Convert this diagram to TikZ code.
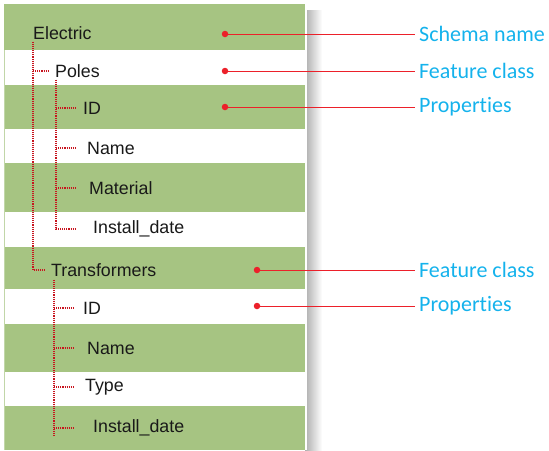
\documentclass[tikz,border=0pt]{standalone}
\usepackage{fontspec}
\setmainfont{Liberation Sans}
\newfontfamily\calloutfont[Ligatures={NoCommon}]{Carlito}
\usetikzlibrary{positioning}
\definecolor{rowgreen}{RGB}{166,196,130}
\definecolor{treered}{RGB}{200,20,30}
\definecolor{leadred}{RGB}{236,32,42}
\definecolor{labelcyan}{RGB}{20,178,236}
\begin{document}
\begin{tikzpicture}[x=1pt, y=-1pt,
          item/.style={anchor=west, inner sep=0pt, text=black!90, font=\fontsize{17.8}{20}\selectfont},
          tree/.style={draw=treered, densely dotted, line width=1.1pt},
          dot/.style={circle, fill=leadred, inner sep=0pt, minimum size=6.5pt},
          lead/.style={draw=leadred, line width=1pt},
          callout/.style={anchor=west, inner sep=0pt, text=labelcyan, font=\calloutfont\fontsize{22}{24}\selectfont}]
        \useasboundingbox (0,0) rectangle (549,450);
        % shadow on the right edge of the table
        \shade[left color=black!32, right color=white] (305,10) rectangle (322,450);
        \fill[white] (4,4) rectangle (307,450);
        % green bands
        \foreach \t/\b in {4/50, 85/129, 163/212, 247/289, 324/372, 406/450}
          \fill[rowgreen] (4,\t) rectangle (305,\b);
        \draw[rowgreen!70, line width=1pt] (4.5,50) -- (4.5,450);
        % rows
        \node[item] (elec) at (33,33) {Electric};
        \node[item] (poles) at (55,71) {Poles};
        \node[item] (pid) at (83,108) {ID};
        \node[item] (pname) at (87,148) {Name};
        \node[item] (pmat) at (89,188) {Material};
        \node[item] (pdate) at (93,229) {Install\_date};
        \node[item] (trans) at (51,270) {Transformers};
        \node[item] (tid) at (83,308) {ID};
        \node[item] (tname) at (87,348) {Name};
        \node[item] (ttype) at (85,387) {Type};
        \node[item] (tdate) at (93,428) {Install\_date};
        % dotted tree
        \draw[tree] ([yshift=-2pt]elec.south west) |- ([xshift=-6pt]trans.west);
        \draw[tree] (elec.south west |- poles.west) -- ([xshift=-6pt]poles.west);
        \draw[tree] ([xshift=1pt, yshift=-2pt]poles.south west) |- ([xshift=-18pt]pdate.west);
        \foreach \n/\s in {pid/8, pname/12, pmat/14}
          \draw[tree] ([xshift=1pt]poles.south west |- \n.west) -- ([xshift=-\s pt]\n.west);
        \draw[tree] ([xshift=3pt, yshift=-3pt]trans.south west) -- ([xshift=3pt]trans.south west |- tdate.south);
        \foreach \n/\s in {tid/10, tname/14, ttype/12, tdate/20}
          \draw[tree] ([xshift=3pt]trans.south west |- \n.west) -- ([xshift=-\s pt]\n.west);
        % callouts
        \node[dot] (d1) at (225,34) {};
        \node[dot] (d2) at (225,71) {};
        \node[dot] (d3) at (225,107) {};
        \node[dot] (d4) at (257,270) {};
        \node[dot] (d5) at (257,306) {};
        \node[callout] (c1) at (419,34) {Schema name};
        \node[callout] (c2) at (419,71) {Feature class};
        \node[callout] (c3) at (419,107) {Properties};
        \node[callout] (c4) at (419,270) {Feature class};
        \node[callout] (c5) at (419,306) {Properties};
        \foreach \i in {1,...,5}
          \draw[lead] (d\i) -- ([xshift=-4pt]c\i.west);
      \end{tikzpicture}
\end{document}
